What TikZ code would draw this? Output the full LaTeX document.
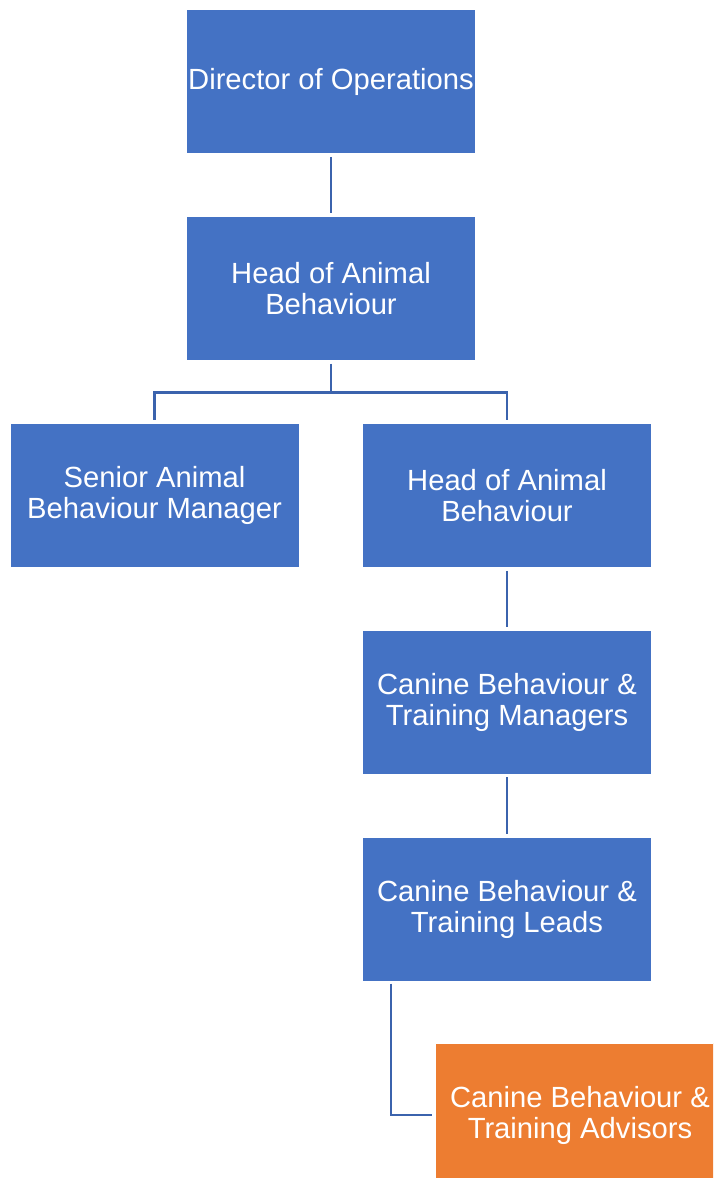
\documentclass[tikz,border=0pt]{standalone}
\usepackage{fontspec}
\setmainfont{Liberation Sans}
\usepackage{tikz}
\usetikzlibrary{calc}
\definecolor{boxblue}{HTML}{4472C4}
\definecolor{boxorange}{HTML}{ED7D31}
\definecolor{linkblue}{HTML}{3B63AD}

\begin{document}
\begin{tikzpicture}[x=1pt,y=-1pt,
        post/.style={rectangle,fill=boxblue,draw=white,line width=0.8pt,text=white,
          minimum width=289pt,minimum height=144pt,align=center,inner sep=0pt,
          font=\fontsize{29.2}{31}\selectfont},
        link/.style={draw=linkblue,line width=2.4pt,shorten <=3pt,shorten >=3pt}]
		\clip (0,0) rectangle (713,1178);
		\useasboundingbox (0,0) rectangle (713,1178);
		\node[post] (dir) at (331,81.5) {Director of Operations};
		\node[post] (hab) at (331,288.5) {Head of Animal\\Behaviour};
		\node[post] (sabm) at (154.5,495.5) {Senior Animal\\Behaviour Manager};
		\node[post] (hab2) at (507,495.5) {Head of Animal\\Behaviour};
		\node[post] (cbtm) at (507,702) {Canine Behaviour \&\\Training Managers};
		\node[post] (cbtl) at (507,909) {Canine Behaviour \&\\Training Leads};
		\node[post,fill=boxorange] (cbta) at (580,1115) {Canine Behaviour \&\\Training Advisors};
		\coordinate (lk) at (391,980.5);
		\draw[link] (dir) -- (hab);
		\draw[link] (hab.south) -- ++(0,31.5) -| (sabm.north);
		\draw[link] (hab.south) -- ++(0,31.5) -| (hab2.north);
		\draw[link] (hab2) -- (cbtm);
		\draw[link] (cbtm) -- (cbtl);
		\draw[link] (lk) |- (cbta.west);
\end{tikzpicture}
\end{document}
